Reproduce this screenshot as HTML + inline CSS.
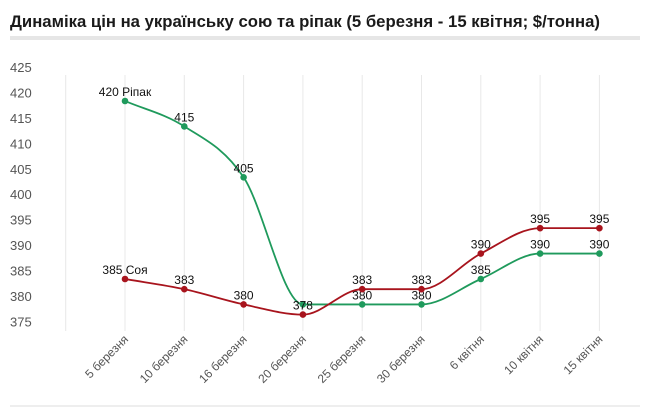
<!DOCTYPE html>
<html><head><meta charset="utf-8"><style>
body{margin:0;background:#fff;}
svg{display:block;font-family:"Liberation Sans",sans-serif;}
</style></head><body>
<svg width="650" height="416">
<text x="10" y="27" font-size="17" font-weight="bold" fill="#1a1a1a" textLength="590" lengthAdjust="spacingAndGlyphs">Динаміка цін на українську сою та ріпак (5 березня - 15 квітня; $/тонна)</text>
<rect x="10" y="36" width="630" height="4" fill="#e6e6e6"/>
<rect x="10" y="405" width="630" height="2" fill="#eeeeee"/>
<g id="grid"></g><g id="yaxis"></g><g id="xaxis"></g><g id="series"></g>
</svg>
<script>
const categories=["5 березня","10 березня","16 березня","20 березня","25 березня","30 березня","6 квітня","10 квітня","15 квітня"];
const rapeValues=[420,415,405,380,380,380,385,390,390];
const soyValues=[385,383,380,378,383,383,390,395,395];
const rapeLabels=["420 Ріпак","415","405","","380","380","385","390","390"];
const soyLabels=["385 Соя","383","380","378","383","383","390","395","395"];
const yTicks=[375,380,385,390,395,400,405,410,415,420,425];
const NS="http://www.w3.org/2000/svg";
function x(i){return 125+i*59.3;}
function y(v){return 279+(385-v)*5.086;}
function tickY(v){return y(v)-8.5;}
function el(tag,attrs,parent){const e=document.createElementNS(NS,tag);for(const k in attrs)e.setAttribute(k,attrs[k]);parent.appendChild(e);return e;}
const grid=document.getElementById('grid'),ya=document.getElementById('yaxis'),xa=document.getElementById('xaxis'),ser=document.getElementById('series');
for(let i=-1;i<categories.length;i++){
  const l=el('line',{x1:x(i),x2:x(i),y1:75,y2:331,stroke:'#e8e8e8','stroke-width':1},grid);
  
  
}
yTicks.forEach(t=>{
  const tx=el('text',{x:10,y:tickY(t)+5,'font-size':13,fill:'#555'},ya);
  tx.textContent=t;
  
  
});
categories.forEach((c,i)=>{
  const tx=el('text',{x:x(i)+4,y:340,'font-size':12,fill:'#555','text-anchor':'end',transform:`rotate(-45 ${x(i)+4} 340)`},xa);
  tx.textContent=c;
  
  
});
function monotonePath(pts){
  const n=pts.length,d=[],m=[];
  for(let i=0;i<n-1;i++)d.push((pts[i+1][1]-pts[i][1])/(pts[i+1][0]-pts[i][0]));
  for(let i=0;i<n;i++){
    if(i===0)m.push(d[0]);else if(i===n-1)m.push(d[n-2]);
    else m.push(d[i-1]*d[i]<=0?0:(d[i-1]+d[i])/2);
  }
  for(let i=0;i<n-1;i++){if(d[i]===0){m[i]=0;m[i+1]=0;continue;}
    const a=m[i]/d[i],b=m[i+1]/d[i],s=a*a+b*b;if(s>9){const t=3/Math.sqrt(s);m[i]=t*a*d[i];m[i+1]=t*b*d[i];}}
  let p=`M${pts[0][0]},${pts[0][1]}`;
  for(let i=0;i<n-1;i++){const h=(pts[i+1][0]-pts[i][0])/3;
    p+=` C${pts[i][0]+h},${pts[i][1]+m[i]*h} ${pts[i+1][0]-h},${pts[i+1][1]-m[i+1]*h} ${pts[i+1][0]},${pts[i+1][1]}`;}
  return p;
}
function drawSeries(vals,labels,color,name){
  const pts=vals.map((v,i)=>[x(i),y(v)]);
  const p=el('path',{d:monotonePath(pts),fill:'none',stroke:color,'stroke-width':1.8},ser);
  
  
  pts.forEach((pt,i)=>{
    const c=el('circle',{cx:pt[0],cy:pt[1],r:3.3,fill:color},ser);
    
    
    if(labels[i]){
      const t=el('text',{x:pt[0],y:pt[1]-5,'font-size':12,fill:'#111','text-anchor':'middle'},ser);
      t.textContent=labels[i];
      
      
    }
  });
}
drawSeries(rapeValues,rapeLabels,'#1f9a5c','rapeseed');
drawSeries(soyValues,soyLabels,'#a8141d','soy');
</script>
</body></html>
